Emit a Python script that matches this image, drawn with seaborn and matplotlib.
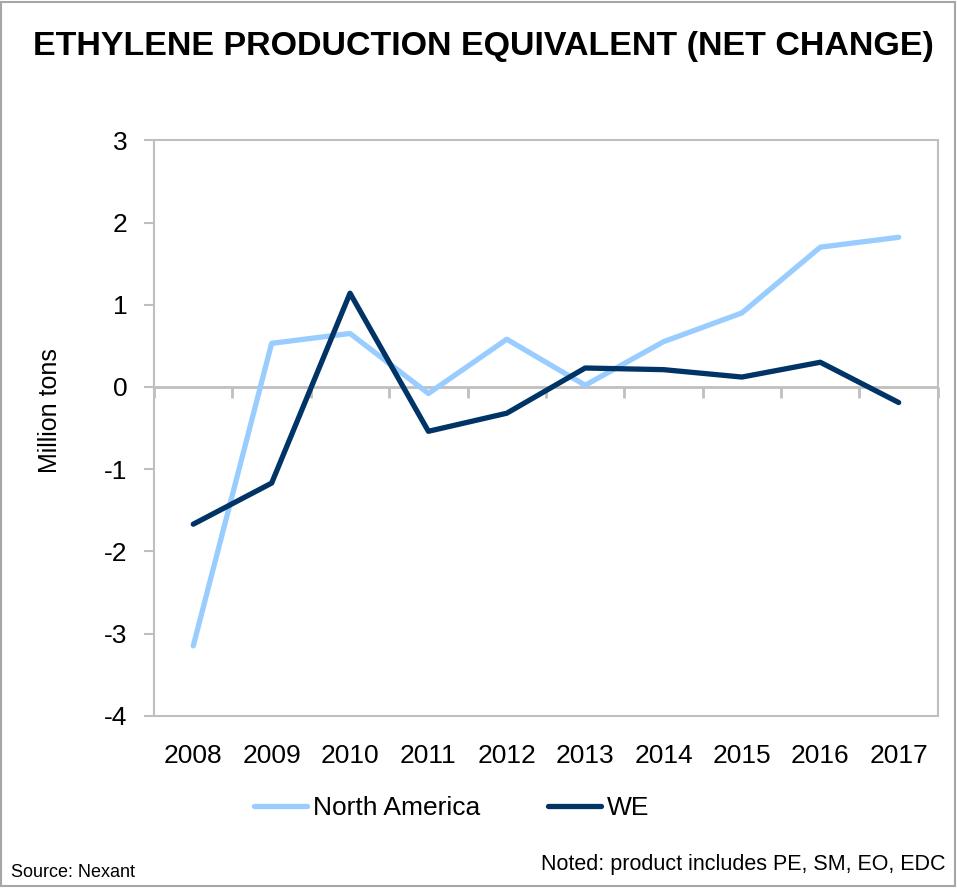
import matplotlib

matplotlib.use("Agg")

import matplotlib.pyplot as plt
import pandas as pd
import seaborn as sns
from matplotlib.patches import Rectangle

# values (million tons, net change)
years = [2008, 2009, 2010, 2011, 2012, 2013, 2014, 2015, 2016, 2017]
north_america = [-3.15, 0.53, 0.65, -0.08, 0.58, 0.02, 0.55, 0.90, 1.70, 1.82]
we = [-1.67, -1.17, 1.14, -0.54, -0.32, 0.23, 0.21, 0.12, 0.30, -0.19]
y_ticks = [3, 2, 1, 0, -1, -2, -3, -4]
series_names = ["North America", "WE"]

LIGHT = "#99CCFF"
NAVY = "#003366"
GRID = "#BFBFBF"

sns.set_theme(style="white")
plt.rcParams["font.family"] = ["Liberation Sans Narrow", "Liberation Sans", "DejaVu Sans"]
plt.rcParams["text.color"] = "black"
plt.rcParams["axes.labelcolor"] = "black"

df = pd.concat(
    [
        pd.DataFrame({"year": years, "value": north_america, "region": series_names[0]}),
        pd.DataFrame({"year": years, "value": we, "region": series_names[1]}),
    ]
)

fig = plt.figure(figsize=(9.57, 8.88), dpi=100)
ax = fig.add_axes([0.161, 0.194, 0.819, 0.648])

ax.axhline(0, color=GRID, linewidth=2, zorder=1)
sns.lineplot(
    data=df,
    x="year",
    y="value",
    hue="region",
    palette={series_names[0]: LIGHT, series_names[1]: NAVY},
    linewidth=3.8,
    ax=ax,
    legend=True,
    zorder=3,
)
for line in ax.get_lines()[1:]:
    line.set_solid_capstyle("round")

ax.set_xlim(years[0] - 0.5, years[-1] + 0.5)
ax.set_ylim(min(y_ticks), max(y_ticks))
ax.set_yticks(y_ticks)
ax.set_yticklabels([str(t) for t in y_ticks])
ax.set_xticks(years)
ax.set_xticklabels([str(y) for y in years])
ax.tick_params(axis="x", length=0, pad=20, labelsize=19, labelcolor="black")
ax.tick_params(axis="y", left=True, length=7, width=1.5, color=GRID, direction="out",
               pad=12, labelsize=19, labelcolor="black")
for side in ["left", "right", "top", "bottom"]:
    ax.spines[side].set_visible(True)
    ax.spines[side].set_color(GRID)
    ax.spines[side].set_linewidth(1.5)
ax.set_xlabel("")
ax.set_ylabel("Million tons", fontsize=18)
ax.yaxis.set_label_coords(-0.118, 0.53)

# category-boundary tick marks hanging off the zero line
zero_frac = (0 - min(y_ticks)) / (max(y_ticks) - min(y_ticks))
zax = ax.secondary_xaxis(zero_frac)
zax.set_xticks([y - 0.5 for y in years] + [years[-1] + 0.5])
zax.set_xticklabels([])
zax.xaxis.set_ticks_position("bottom")
zax.tick_params(axis="x", direction="out", length=8, width=2, color=GRID,
                labelbottom=False, labeltop=False)
for side in ["top", "bottom"]:
    zax.spines[side].set_visible(False)

handles, labels = ax.get_legend_handles_labels()
ax.legend_.remove()
fig.legend(
    handles,
    labels,
    loc="center",
    bbox_to_anchor=(0.472, 0.09),
    ncol=2,
    frameon=False,
    fontsize=19,
    handlelength=2.0,
    handletextpad=0.2,
    columnspacing=2.6,
)

fig.text(0.035, 0.948, "ETHYLENE PRODUCTION EQUIVALENT (NET CHANGE)", fontsize=24.5,
         fontweight="bold", va="center", ha="left")
fig.text(0.012, 0.018, "Source: Nexant", fontsize=13, va="center", ha="left")
fig.text(0.988, 0.026, "Noted: product includes PE, SM, EO, EDC", fontsize=15.5,
         va="center", ha="right")

fig.patches.append(Rectangle((0.001, 0.002), 0.997, 0.996, transform=fig.transFigure,
                             fill=False, edgecolor="#A6A6A6", linewidth=1.5))

fig.savefig("out.png", dpi=100, facecolor="white")
